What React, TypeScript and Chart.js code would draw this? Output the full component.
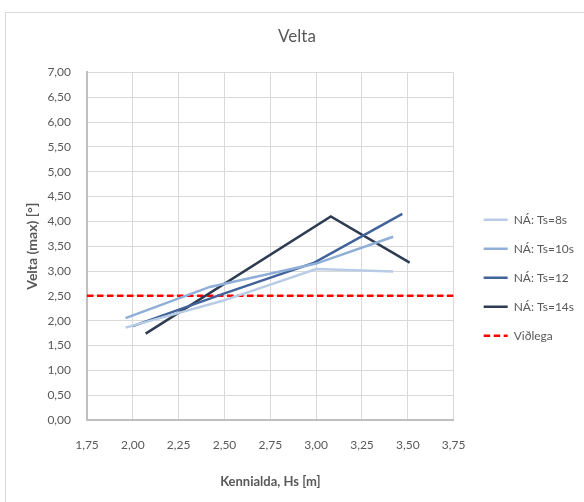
import React, { useEffect, useRef } from 'react';
import { Chart, registerables } from 'chart.js';

Chart.register(...registerables);

// ---- data ----
const chartTitle = 'Velta';
const xTitle = 'Kennialda, Hs [m]';
const yTitle = 'Velta (max) [°]';

const seriesNames = ['NÁ: Ts=8s', 'NÁ: Ts=10s', 'NÁ: Ts=12', 'NÁ: Ts=14s'];
const seriesColors = ['#b9cce6', '#8fafd9', '#41629a', '#2e3c52'];

const hsTs8 = [1.96, 2.49, 3.0, 3.42];
const veltaTs8 = [1.86, 2.4, 3.04, 2.99];

const hsTs10 = [1.96, 2.42, 3.0, 3.42];
const veltaTs10 = [2.05, 2.68, 3.15, 3.69];

const hsTs12 = [2.0, 2.5, 2.99, 3.47];
const veltaTs12 = [1.89, 2.55, 3.17, 4.15];

const hsTs14 = [2.07, 3.08, 3.51];
const veltaTs14 = [1.74, 4.1, 3.17];

const limitName = 'Viðlega';
const limitHs = [1.75, 3.75];
const limitVelta = [2.5, 2.5];

const xTicks = [1.75, 2.0, 2.25, 2.5, 2.75, 3.0, 3.25, 3.5, 3.75];
const yTicks = [0, 0.5, 1, 1.5, 2, 2.5, 3, 3.5, 4, 4.5, 5, 5.5, 6, 6.5, 7];

const FONT = "Lato, 'Noto Sans', sans-serif";
const TEXT = '#595959';

const fmt = (v: number) => v.toFixed(2).replace('.', ',');
const pts = (xs: number[], ys: number[]) => xs.map((x, i) => ({ x, y: ys[i] }));

export default function App() {
  const ref = useRef<HTMLCanvasElement>(null);

  useEffect(() => {
    const seriesX = [hsTs8, hsTs10, hsTs12, hsTs14];
    const seriesY = [veltaTs8, veltaTs10, veltaTs12, veltaTs14];
    const datasets: any[] = seriesNames.map((name, i) => ({
      label: name,
      data: pts(seriesX[i], seriesY[i]),
      borderColor: seriesColors[i],
      backgroundColor: seriesColors[i],
      borderWidth: 2.5,
      pointRadius: 0,
      tension: 0,
    }));
    datasets.push({
      label: limitName,
      data: pts(limitHs, limitVelta),
      borderColor: '#ff0000',
      backgroundColor: '#ff0000',
      borderWidth: 2.5,
      borderDash: [6.5, 3.5],
      pointRadius: 0,
      tension: 0,
    });

    const chart = new Chart(ref.current as HTMLCanvasElement, {
      type: 'line',
      data: { datasets },
      options: {
        animation: false,
        responsive: false,
        layout: { padding: { left: 10, right: 0, top: 14, bottom: 8 } },
        scales: {
          x: {
            type: 'linear',
            min: 1.75,
            max: 3.75,
            afterBuildTicks: (s: any) => {
              s.ticks = xTicks.map((v) => ({ value: v }));
            },
            afterFit: (s: any) => {
              s.height = 74;
            },
            grid: { color: '#d9d9d9', lineWidth: 1, drawTicks: false },
            border: { color: '#bfbfbf', width: 2 },
            ticks: {
              padding: 18,
              color: TEXT,
              font: { family: FONT, size: 12 },
              callback: (v: any) => fmt(Number(v)),
              maxRotation: 0,
              autoSkip: false,
            },
            title: {
              display: true,
              text: xTitle,
              color: TEXT,
              font: { family: FONT, size: 13, weight: 'bold' },
              padding: { top: 4, bottom: 4 },
            },
          },
          y: {
            type: 'linear',
            min: 0,
            max: 7,
            afterBuildTicks: (s: any) => {
              s.ticks = yTicks.map((v) => ({ value: v }));
            },
            afterFit: (s: any) => {
              s.width = 77;
            },
            grid: { color: '#d9d9d9', lineWidth: 1, drawTicks: false },
            border: { color: '#bfbfbf', width: 2 },
            ticks: {
              padding: 16,
              color: TEXT,
              font: { family: FONT, size: 12 },
              callback: (v: any) => fmt(Number(v)),
              autoSkip: false,
            },
            title: {
              display: true,
              text: yTitle,
              color: TEXT,
              font: { family: FONT, size: 14, weight: 'bold' },
              padding: { top: 14, bottom: 4 },
            },
          },
          gap: {
            type: 'linear',
            position: 'right',
            display: true,
            min: 0,
            max: 1,
            grid: { display: false, drawTicks: false },
            border: { display: false },
            ticks: { display: false },
            afterFit: (s: any) => {
              s.width = 13;
            },
          },
        },
        plugins: {
          title: {
            display: true,
            text: chartTitle,
            color: TEXT,
            font: { family: FONT, size: 17, weight: 'normal' },
            padding: { top: 12, bottom: 26 },
          },
          legend: {
            display: true,
            position: 'right',
            align: 'start',
            fullSize: false,
            maxWidth: 200,
            title: {
              display: true,
              text: '',
              font: { family: FONT, size: 12 },
              padding: { top: 110, bottom: 0 },
            },
            labels: {
              usePointStyle: true,
              pointStyle: 'line',
              pointStyleWidth: 24,
              padding: 17,
              color: TEXT,
              font: { family: FONT, size: 12 },
              generateLabels: (c: any) => {
                const items = Chart.defaults.plugins.legend.labels.generateLabels(c);
                items.forEach((it: any) => {
                  const ds: any = c.data.datasets[it.datasetIndex];
                  it.lineDash = ds.borderDash || [];
                  it.lineWidth = ds.borderWidth;
                  it.strokeStyle = ds.borderColor;
                  it.fillStyle = ds.borderColor;
                  it.pointStyle = 'line';
                });
                return items;
              },
            },
          },
          tooltip: { enabled: false },
        },
      },
    });
    return () => chart.destroy();
  }, []);

  return (
    <div
      style={{
        position: 'fixed',
        left: 0,
        top: 0,
        width: 584,
        height: 502,
        overflow: 'hidden',
        background: '#ffffff',
      }}
    >
      <div
        style={{
          position: 'absolute',
          left: 5,
          top: 12,
          width: 640,
          height: 560,
          border: '1px solid #d9d9d9',
          boxSizing: 'border-box',
        }}
      />
      <canvas
        ref={ref}
        width={584}
        height={502}
        style={{ position: 'absolute', left: 0, top: 0, width: 584, height: 502 }}
      />
    </div>
  );
}
